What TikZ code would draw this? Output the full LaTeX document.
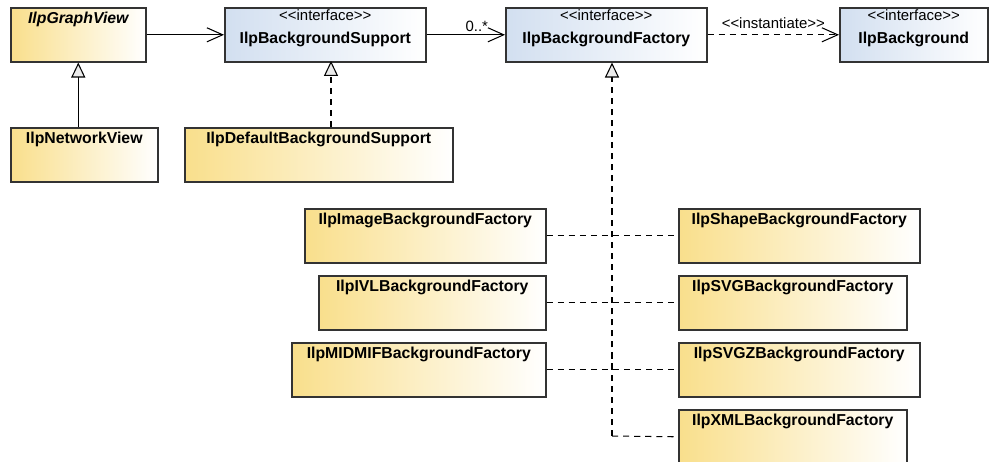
\documentclass[tikz,border=0pt]{standalone}
\usepackage{fontspec}
\setmainfont{Liberation Sans}
\usetikzlibrary{arrows.meta,shadows}
\definecolor{clsyel}{HTML}{F9DF8C}
\definecolor{ifblue}{HTML}{D2DFF0}
\newcommand\stereo[1]{<\kern0pt<#1>\kern0pt>}
\begin{document}
\begin{tikzpicture}[x=0.02cm,y=-0.02cm,line width=.6pt,
    cls/.style={draw=black!80,line width=.9pt,left color=clsyel,right color=white,
        anchor=north west,inner sep=0pt,minimum height=1.08cm,
        font=\fontsize{9}{11}\selectfont\bfseries,text height=9pt,text depth=21.6pt,
        drop shadow={shadow xshift=.8pt,shadow yshift=-.8pt,opacity=.2}},
    iface/.style={cls,left color=ifblue,text height=20pt,text depth=10.6pt,
        label={[anchor=north,inner sep=0pt,text height=7.4pt,font=\fontsize{8.5}{10}\selectfont]north:\stereo{interface}}},
    lbl/.style={font=\fontsize{8.5}{10}\selectfont,inner sep=1.5pt},
    assoc/.style={-{Straight Barb[length=9pt,width=8pt]}},
    dep/.style={assoc,dash pattern=on 3.5pt off 2.8pt},
    gen/.style={-{Triangle[length=8.5pt,width=8pt,fill=black!8]}},
    real/.style={gen,dash pattern=on 3.5pt off 2.8pt},
    impl/.style={dash pattern=on 3.5pt off 2.8pt}]
\useasboundingbox (0,0) rectangle (989,461);
% top row
\node[cls,font=\fontsize{9}{11}\selectfont\bfseries\itshape,minimum width=2.7cm] (gview) at (10,7) {IlpGraphView};
\node[iface,minimum width=4.02cm] (bsup) at (224,7) {IlpBackgroundSupport};
\node[iface,minimum width=4.02cm] (bfac) at (505,7) {IlpBackgroundFactory};
\node[iface,minimum width=2.96cm] (bg) at (839,7) {IlpBackground};
% second row
\node[cls,minimum width=2.94cm] (nview) at (10,127) {IlpNetworkView};
\node[cls,minimum width=5.36cm] (dsup) at (184,127) {IlpDefaultBackgroundSupport};
% factories
\node[cls,minimum width=4.82cm] (img) at (304,208) {IlpImageBackgroundFactory};
\node[cls,minimum width=4.54cm] (ivl) at (318,275) {IlpIVLBackgroundFactory};
\node[cls,minimum width=5.08cm] (mid) at (291,342) {IlpMIDMIFBackgroundFactory};
\node[cls,minimum width=4.82cm] (shape) at (678,208) {IlpShapeBackgroundFactory};
\node[cls,minimum width=4.56cm] (svg) at (678,275) {IlpSVGBackgroundFactory};
\node[cls,minimum width=4.82cm] (svgz) at (678,342) {IlpSVGZBackgroundFactory};
\node[cls,minimum width=4.56cm] (xml) at (678,409) {IlpXMLBackgroundFactory};
\coordinate (trunk) at (612,436);
\coordinate (dtop) at (331,61);

\draw[assoc] (gview) -- (bsup);
\draw[assoc] (bsup) -- node[lbl,pos=.64,above]{0..*} (bfac);
\draw[dep] (bfac) -- node[lbl,above,inner sep=3pt]{\stereo{instantiate}} (bg);
\draw[gen] (gview.south |- nview.north) -- (gview.south);
\draw[real] (dtop |- dsup.north) -- (dtop);
\draw[real] (trunk) -- (trunk |- bfac.south);
\draw[impl] (img) -- (shape);
\draw[impl] (ivl) -- (svg);
\draw[impl] (mid) -- (svgz);
\draw[impl] (trunk) -- (xml.west);
\end{tikzpicture}
\end{document}
